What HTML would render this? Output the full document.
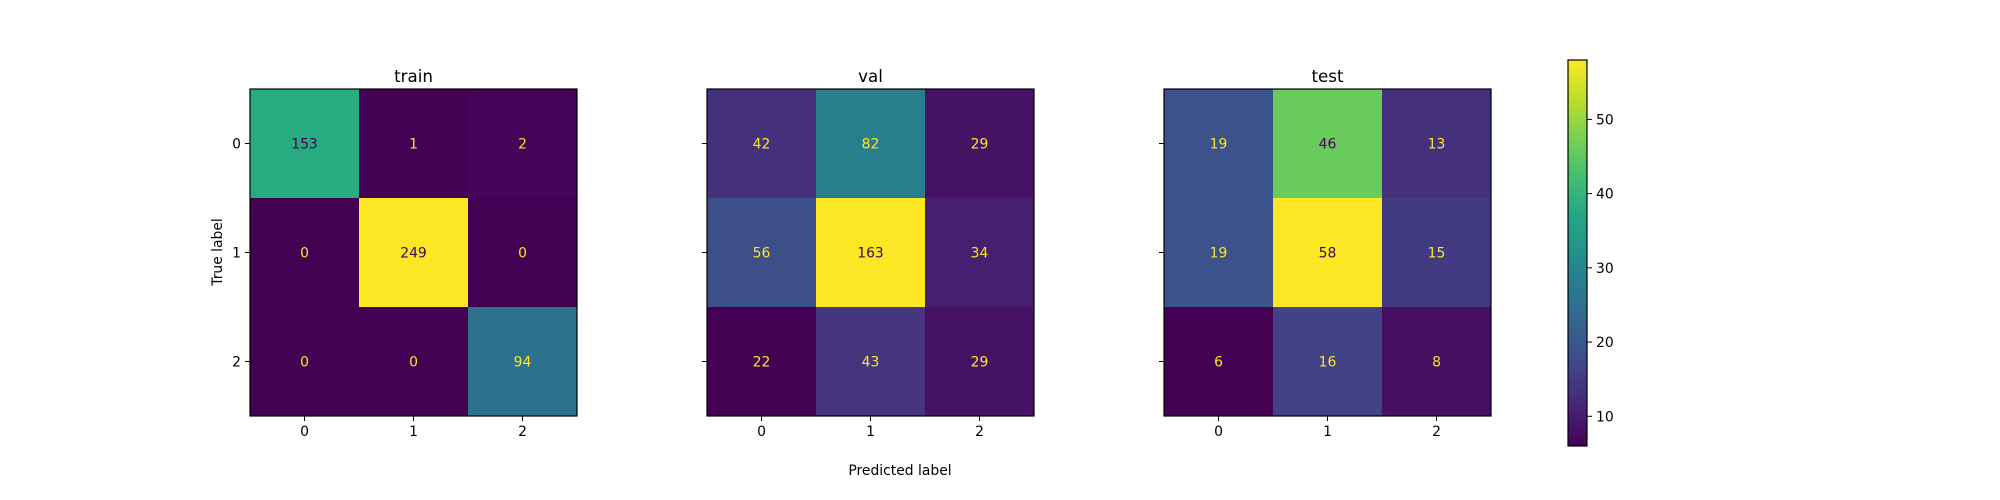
<!DOCTYPE html>
<html><head><meta charset="utf-8"><style>
html,body{margin:0;padding:0;background:#fff;}
svg{display:block;font-family:"DejaVu Sans","Liberation Sans",sans-serif;}
</style></head><body>
<svg id="chart" width="2000" height="500" viewBox="0 0 2000 500" xmlns="http://www.w3.org/2000/svg">
<defs><linearGradient id="cbgrad" x1="0" y1="1" x2="0" y2="0"></linearGradient></defs>
</svg>
<script>
const classes = ["0","1","2"];
const panelTitles = ["train","val","test"];
const trainValues = [[153,1,2],[0,249,0],[0,0,94]];
const valValues = [[42,82,29],[56,163,34],[22,43,29]];
const testValues = [[19,46,13],[19,58,15],[6,16,8]];
const colorbarTicks = [10,20,30,40,50];

const NS = "http://www.w3.org/2000/svg";
const svgRoot = document.getElementById("chart");
const VIR = ["#440154","#482475","#414487","#355f8d","#2a788e","#21918c","#22a884","#44bf70","#7ad151","#bddf26","#fde725"];
function hex(h){return [1,3,5].map(i=>parseInt(h.substr(i,2),16));}
function viridis(t){
  t=Math.max(0,Math.min(1,t));
  const p=t*10, i=Math.min(9,Math.floor(p)), f=p-i;
  const a=hex(VIR[i]), b=hex(VIR[i+1]);
  return "rgb("+a.map((v,k)=>Math.round(v+(b[k]-v)*f)).join(",")+")";
}
function mk(tag, attrs, parent){
  const e=document.createElementNS(NS,tag);
  for(const k in attrs) e.setAttribute(k,attrs[k]);
  (parent||svgRoot).appendChild(e); return e;
}
const panels=[{x:250,vals:trainValues},{x:707,vals:valValues},{x:1164,vals:testValues}];
const axTop=89, axSize=327, cellSize=axSize/3;
panels.forEach((p,pi)=>{
  const g=mk("g",{});
  
  
  const flat=p.vals.flat(); const vmin=Math.min(...flat), vmax=Math.max(...flat);
  const thresh=(vmin+vmax)/2;
  const xs=i=>p.x+cellSize*(i+0.5);
  const ys=j=>axTop+cellSize*(j+0.5);
  p.vals.forEach((row,r)=>row.forEach((v,c)=>{
    const rc=mk("rect",{x:xs(c)-cellSize/2,y:ys(r)-cellSize/2,width:cellSize+0.5,height:cellSize+0.5,fill:viridis((v-vmin)/(vmax-vmin))},g);
    
    
    const t=mk("text",{x:xs(c),y:ys(r)+5,"text-anchor":"middle","font-size":"13.9",fill:v<thresh?"#fde725":"#440154"},g);
    t.textContent=v;
    
    
  }));
  const fr=mk("rect",{x:p.x,y:axTop,width:axSize,height:axSize,fill:"none",stroke:"#000","stroke-width":1.2},g);
  
  
  const tt=mk("text",{x:p.x+axSize/2,y:82,"text-anchor":"middle","font-size":"16.7",fill:"#000"},g);
  tt.textContent=panelTitles[pi];
  
  
  classes.forEach((cl,i)=>{
    mk("line",{x1:xs(i),x2:xs(i),y1:axTop+axSize,y2:axTop+axSize+5,stroke:"#000"},g);
    const xl=mk("text",{x:xs(i),y:436,"text-anchor":"middle","font-size":"13.9",fill:"#000"},g);
    xl.textContent=cl;
    
    
    mk("line",{x1:p.x-5,x2:p.x,y1:ys(i),y2:ys(i),stroke:"#000"},g);
    if(pi===0){
      const yl=mk("text",{x:p.x-9,y:ys(i)+5,"text-anchor":"end","font-size":"13.9",fill:"#000"},g);
      yl.textContent=cl;
      
      
    }
  });
});
const yt=mk("text",{x:0,y:0,"text-anchor":"middle","font-size":"13.9",fill:"#000",transform:"translate(222,252) rotate(-90)"});
yt.textContent="True label";


const xt=mk("text",{x:900,y:475,"text-anchor":"middle","font-size":"13.9",fill:"#000"});
xt.textContent="Predicted label";


const tf=testValues.flat(); const cmin=Math.min(...tf), cmax=Math.max(...tf);
const grad=document.getElementById("cbgrad");
for(let i=0;i<=20;i++){mk("stop",{offset:(i/20),"stop-color":viridis(i/20)},grad);}
const cbTop=60, cbBot=446, cbX=1568, cbW=19;
const cy=v=>cbBot-(v-cmin)/(cmax-cmin)*(cbBot-cbTop);
const cb=mk("rect",{x:cbX,y:cbTop,width:cbW,height:cbBot-cbTop,fill:"url(#cbgrad)",stroke:"#000","stroke-width":1.2});


colorbarTicks.forEach(v=>{
  mk("line",{x1:cbX+cbW,x2:cbX+cbW+5,y1:cy(v),y2:cy(v),stroke:"#000"});
  const t=mk("text",{x:cbX+cbW+9,y:cy(v)+5,"font-size":"13.9",fill:"#000"});
  t.textContent=v;
  
  
});
</script>
</body></html>
